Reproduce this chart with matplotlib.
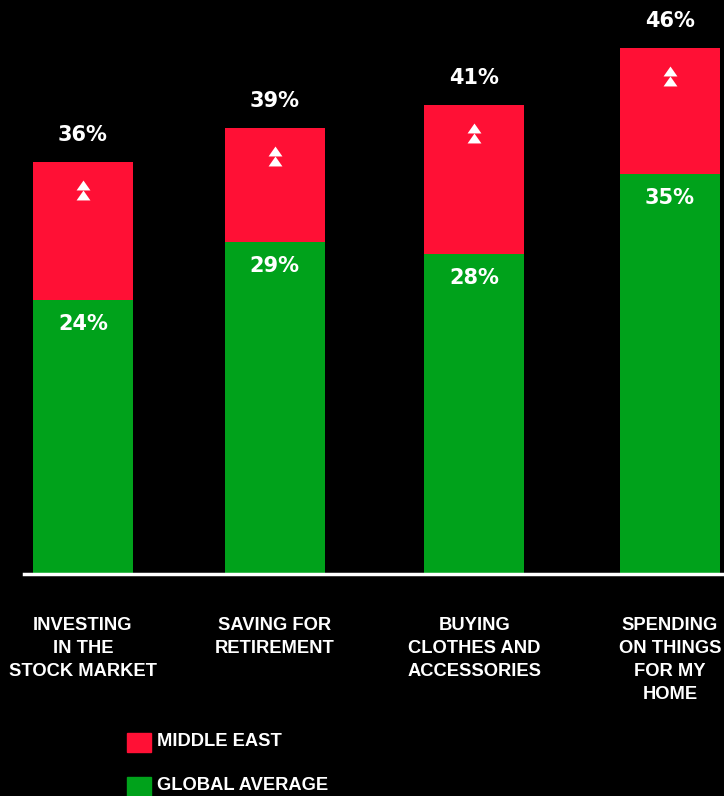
import matplotlib
matplotlib.use("Agg")
import matplotlib.pyplot as plt
from matplotlib.patches import Rectangle
from matplotlib.path import Path
from matplotlib.transforms import offset_copy

# ---------------------------------------------------------------------------
# Data
# ---------------------------------------------------------------------------
categories = [
    "INVESTING\nIN THE\nSTOCK MARKET",
    "SAVING FOR\nRETIREMENT",
    "BUYING\nCLOTHES AND\nACCESSORIES",
    "SPENDING\nON THINGS\nFOR MY\nHOME",
]
middle_east = [36, 39, 41, 46]
global_avg = [24, 29, 28, 35]
series_names = ["MIDDLE EAST", "GLOBAL AVERAGE"]

RED = "#FF1035"
GREEN = "#00A21B"
BG = "black"
PCT_FONT = "DejaVu Sans"
LABEL_FONT = "Liberation Sans"

W, H, DPI = 724, 796, 100
fig = plt.figure(figsize=(W / DPI, H / DPI), dpi=DPI, facecolor=BG)

# axes in pixel terms: x 24..724, baseline at y=574 from top
ax = fig.add_axes([24 / W, (H - 574) / H, 700 / W, 574 / H])
ax.set_facecolor(BG)

x = [0, 0.98, 2, 3]   # slightly uneven spacing as in the original
bar_w = 0.51
ax.bar(x, middle_east, width=bar_w, color=RED, zorder=2)
ax.bar(x, global_avg, width=bar_w, color=GREEN, zorder=3)

ax.set_xlim(-0.301, 3.276)
ax.set_ylim(0, 50.2)
ax.axis("off")

# white baseline
ax.axhline(0, color="white", linewidth=2.5, zorder=4, clip_on=False)

# triangle used for the double up-arrow (wider than tall)
tri = Path([(-0.7, -0.5), (0.7, -0.5), (0, 0.5), (-0.7, -0.5)],
           [Path.MOVETO, Path.LINETO, Path.LINETO, Path.CLOSEPOLY])

for xi, top, g in zip(x, middle_east, global_avg):
    ax.annotate(f"{top}%", xy=(xi, top), xytext=(0, 27), textcoords="offset pixels",
                ha="center", va="center", color="white", fontsize=15,
                fontweight="bold", family=PCT_FONT)
    ax.annotate(f"{g}%", xy=(xi, g), xytext=(0, -24), textcoords="offset pixels",
                ha="center", va="center", color="white", fontsize=15,
                fontweight="bold", family=PCT_FONT, zorder=5)
    for dy in (-23, -32.5):
        tr = offset_copy(ax.transData, fig=fig, y=dy, units="dots")
        ax.plot([xi], [top], marker=tri, markersize=10, color="white",
                markeredgewidth=0, transform=tr, zorder=5)

# category labels below the baseline
for xi, cat in zip(x, categories):
    ax.annotate(cat, xy=(xi, 0), xytext=(0, -43), textcoords="offset pixels",
                ha="center", va="top", color="white", fontsize=13.2,
                fontweight="bold", family=LABEL_FONT, linespacing=1.45,
                annotation_clip=False)

# legend drawn by hand
for name, color, ytop in zip(series_names, [RED, GREEN], [733, 777]):
    fig.patches.append(Rectangle((127 / W, 1 - (ytop + 19) / H), 24 / W, 19 / H,
                                 transform=fig.transFigure, color=color))
    fig.text(157 / W, 1 - (ytop + 9) / H, name, ha="left", va="center",
             color="white", fontsize=13.2, fontweight="bold", family=LABEL_FONT)

fig.savefig("out.png", dpi=DPI, facecolor=BG)
